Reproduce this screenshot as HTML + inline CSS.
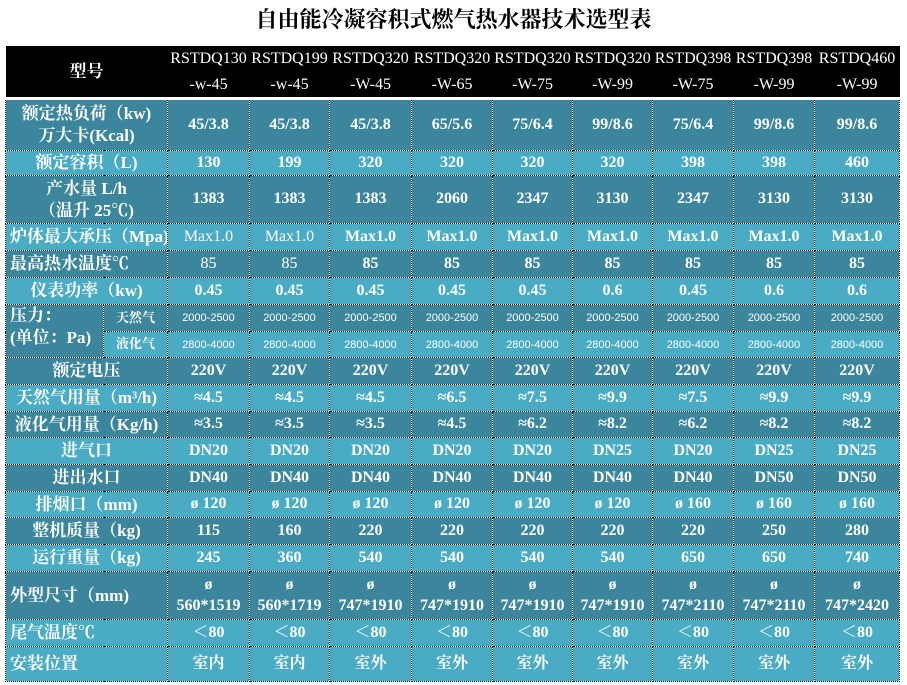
<!DOCTYPE html>
<html><head><meta charset="utf-8">
<style>
body{margin:0;width:907px;height:685px;background:#fff;overflow:hidden;font-family:"Liberation Serif","Noto Serif CJK SC",serif;}
#title{position:absolute;left:0;top:3px;width:907px;text-align:center;font:bold 22px "Liberation Serif","Noto Serif CJK SC",serif;color:#000;}
table{position:absolute;left:5px;top:46px;border-collapse:collapse;table-layout:fixed;width:894px;color:#fff;}
td{border:1px dotted #111;padding:0;text-align:center;font-weight:bold;font-size:16px;line-height:1.3;overflow:hidden;white-space:nowrap;}
tr.h td{background:#000;font-weight:normal;font-size:16px;border:none;border-bottom:3px solid #fff;line-height:1.6;}
tr.h td.lab{font-weight:bold;font-size:17px;}
.d td{background:#3b869c;}
.l td{background:#4aabc5;}
td.lab{font-family:"Liberation Serif","Noto Serif CJK SC",serif;font-size:17px;}
td.left{text-align:left;padding-left:4px;}
td.sm{font-size:11px;font-weight:normal;font-family:"Liberation Sans","Noto Sans CJK SC",sans-serif;}
td.sub{font-size:13px;}
td.nb{font-weight:normal;}
</style></head><body>
<div id="title">自由能冷凝容积式燃气热水器技术选型表</div>
<table id="spec">
<colgroup><col style="width:98px"><col style="width:64px"><col style="width:82px"><col style="width:80px"><col style="width:82px"><col style="width:81px"><col style="width:80px"><col style="width:80px"><col style="width:81px"><col style="width:81px"><col style="width:85px"></colgroup>
</table>
<script>
const models=["RSTDQ130<br>-w-45","RSTDQ199<br>-w-45","RSTDQ320<br>-W-45","RSTDQ320<br>-W-65","RSTDQ320<br>-W-75","RSTDQ320<br>-W-99","RSTDQ398<br>-W-75","RSTDQ398<br>-W-99","RSTDQ460<br>-W-99"];
const rows=[
["额定热负荷（kw)<br>万大卡(Kcal)","d",52,"c",["45/3.8","45/3.8","45/3.8","65/5.6","75/6.4","99/8.6","75/6.4","99/8.6","99/8.6"]],
["额定容积（L)","l",25,"c",["130","199","320","320","320","320","398","398","460"]],
["产水量 L/h<br>（温升 25℃)","d",48,"c",["1383","1383","1383","2060","2347","3130","2347","3130","3130"]],
["炉体最大承压（Mpa)","l",27,"left",["Max1.0","Max1.0","Max1.0","Max1.0","Max1.0","Max1.0","Max1.0","Max1.0","Max1.0"]],
["最高热水温度℃","d",27,"left",["85","85","85","85","85","85","85","85","85"]],
["仪表功率（kw)","l",27,"c",["0.45","0.45","0.45","0.45","0.45","0.6","0.45","0.6","0.6"]],
["天然气","d",27,"p1",["2000-2500","2000-2500","2000-2500","2000-2500","2000-2500","2000-2500","2000-2500","2000-2500","2000-2500"]],
["液化气","l",26,"p2",["2800-4000","2800-4000","2800-4000","2800-4000","2800-4000","2800-4000","2800-4000","2800-4000","2800-4000"]],
["额定电压","d",27,"c",["220V","220V","220V","220V","220V","220V","220V","220V","220V"]],
["天然气用量（m³/h)","l",27,"c",["≈4.5","≈4.5","≈4.5","≈6.5","≈7.5","≈9.9","≈7.5","≈9.9","≈9.9"]],
["液化气用量（Kg/h)","d",26,"c",["≈3.5","≈3.5","≈3.5","≈4.5","≈6.2","≈8.2","≈6.2","≈8.2","≈8.2"]],
["进气口","l",27,"c",["DN20","DN20","DN20","DN20","DN20","DN25","DN20","DN25","DN25"]],
["进出水口","d",27,"c",["DN40","DN40","DN40","DN40","DN40","DN40","DN40","DN50","DN50"]],
["排烟口（mm)","l",26,"c",["ø 120","ø 120","ø 120","ø 120","ø 120","ø 120","ø 160","ø 160","ø 160"]],
["整机质量（kg)","d",27,"c",["115","160","220","220","220","220","220","250","280"]],
["运行重量（kg)","l",27,"c",["245","360","540","540","540","540","650","650","740"]],
["外型尺寸（mm)","d",48,"left",["ø<br>560*1519","ø<br>560*1719","ø<br>747*1910","ø<br>747*1910","ø<br>747*1910","ø<br>747*1910","ø<br>747*2110","ø<br>747*2110","ø<br>747*2420"]],
["尾气温度℃","l",27,"left",["＜80","＜80","＜80","＜80","＜80","＜80","＜80","＜80","＜80"]],
["安装位置","l",35,"left",["室内","室内","室外","室外","室外","室外","室外","室外","室外"]]
];
const t=document.getElementById('spec');
let hr=t.insertRow();hr.className='h';hr.style.height='49px';


let hc=hr.insertCell();hc.colSpan=2;hc.className='lab';hc.innerHTML='型号';


models.forEach(m=>{let c=hr.insertCell();c.innerHTML=m;

});
rows.forEach((r,i)=>{
 let tr=t.insertRow();tr.className=r[1];tr.style.height=r[2]+'px';
 
 
 if(r[3]==='p1'){
  let a=tr.insertCell();a.rowSpan=2;a.className='lab left';a.style.background='#3b869c';a.style.verticalAlign='top';a.innerHTML='压力：<br>(单位：Pa)';
  
  
 }
 let lc=tr.insertCell();
 if(r[3]==='p1'||r[3]==='p2'){lc.className='lab sub';}
 else{lc.colSpan=2;lc.className='lab'+(r[3]==='left'?' left':'');}
 lc.innerHTML=r[0];
 
 
 r[4].forEach((v,j)=>{let c=tr.insertCell();c.innerHTML=v;
  if(r[3]==='p1'||r[3]==='p2')c.className='sm';
  if(i===3&&j<2)c.className='nb';
  if(i===4&&j<2)c.className='nb';
  
  });
});
</script>
</body></html>
